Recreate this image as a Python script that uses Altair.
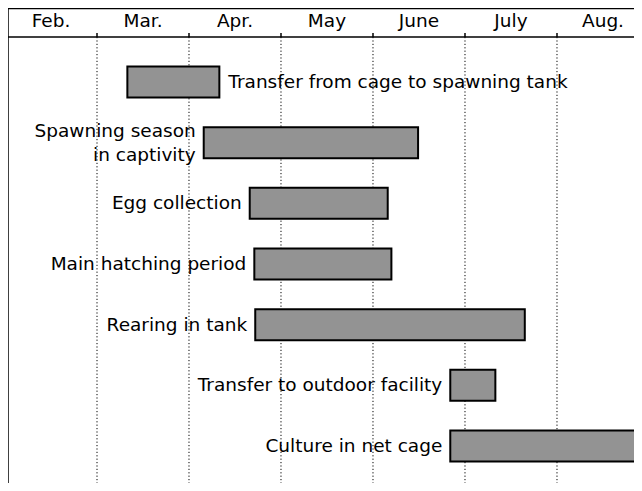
import altair as alt
import pandas as pd

# ---- data ----
months = ["Feb.", "Mar.", "Apr.", "May", "June", "July", "Aug."]
month_pos = [0.5, 1.5, 2.5, 3.5, 4.5, 5.5, 6.5]          # month centres (months since Feb. 1)
boundaries = [1, 2, 3, 4, 5, 6]                           # month boundaries

tasks = [
    "Transfer from cage to spawning tank",
    "Spawning season in captivity",
    "Egg collection",
    "Main hatching period",
    "Rearing in tank",
    "Transfer to outdoor facility",
    "Culture in net cage",
]
label_lines = [
    ["Transfer from cage to spawning tank"],
    ["Spawning season", "in captivity"],
    ["Egg collection"],
    ["Main hatching period"],
    ["Rearing in tank"],
    ["Transfer to outdoor facility"],
    ["Culture in net cage"],
]
starts = [1.33, 2.16, 2.66, 2.71, 2.72, 4.84, 4.84]
ends = [2.33, 4.49, 4.16, 4.20, 5.65, 5.33, 7.30]
rows = [0, 1, 2, 3, 4, 5, 6]
label_right = [True, False, False, False, False, False, False]

# ---- scales ----
X0, X1 = 0.0326, 6.837
Y0, Y1 = -1.22, 6.61
HEADER = -0.742
MONTH_Y = -1.01
TICK_TOP = -0.808
HALF = 0.255
LINE_STEP = 0.198
FONT = "DejaVu Sans"
FS = 18.5

xs = alt.Scale(domain=[X0, X1], nice=False, zero=False)
ys = alt.Scale(domain=[Y0, Y1], nice=False, zero=False, reverse=True)

bars_df = pd.DataFrame({"task": tasks, "start": starts, "end": ends, "row": rows,
                        "lines": label_lines, "right": label_right})

months_df = pd.DataFrame({"month": months, "pos": month_pos, "y": MONTH_Y})
bound_df = pd.DataFrame({"b": boundaries, "top": HEADER, "bot": Y1, "ttop": TICK_TOP})

# frame lines
frame_df = pd.DataFrame({
    "x": [X0, X0, X0], "x2": [X1, X1, X0],
    "y": [Y0 + 0.01, HEADER, Y0], "y2": [Y0 + 0.01, HEADER, Y1],
})
frame = alt.Chart(frame_df).mark_rule(color="black", strokeWidth=1.5).encode(
    x=alt.X("x:Q", scale=xs, axis=None), x2="x2:Q",
    y=alt.Y("y:Q", scale=ys, axis=None), y2="y2:Q",
)

dotted = alt.Chart(bound_df).mark_rule(color="black", strokeWidth=1, strokeDash=[1.2, 2.2]).encode(
    x=alt.X("b:Q", scale=xs, axis=None),
    y=alt.Y("top:Q", scale=ys, axis=None), y2="bot:Q",
)
ticks = alt.Chart(bound_df).mark_rule(color="black", strokeWidth=1.5).encode(
    x=alt.X("b:Q", scale=xs, axis=None),
    y=alt.Y("ttop:Q", scale=ys, axis=None), y2="top:Q",
)

month_text = alt.Chart(months_df).mark_text(font=FONT, fontSize=FS, color="black",
                                             baseline="middle", align="center").encode(
    x=alt.X("pos:Q", scale=xs, axis=None),
    y=alt.Y("y:Q", scale=ys, axis=None),
    text="month:N",
)

bars = alt.Chart(bars_df).transform_calculate(
    y1=f"datum.row - {HALF}", y2=f"datum.row + {HALF}"
).mark_rect(fill="#939393", stroke="black", strokeWidth=2, clip=True).encode(
    x=alt.X("start:Q", scale=xs, axis=None), x2="end:Q",
    y=alt.Y("y1:Q", scale=ys, axis=None), y2="y2:Q",
)

left_labels = alt.Chart(bars_df).transform_filter("!datum.right").transform_calculate(
    ly=f"datum.row - (length(datum.lines) - 1) * {LINE_STEP}"
).mark_text(
    font=FONT, fontSize=FS, color="black", align="right", baseline="middle",
    dx=-8, lineHeight=24).encode(
    x=alt.X("start:Q", scale=xs, axis=None),
    y=alt.Y("ly:Q", scale=ys, axis=None),
    text="lines",
)
right_labels = alt.Chart(bars_df).transform_filter("datum.right").mark_text(
    font=FONT, fontSize=FS, color="black", align="left", baseline="middle",
    dx=9, lineHeight=24).encode(
    x=alt.X("end:Q", scale=xs, axis=None),
    y=alt.Y("row:Q", scale=ys, axis=None),
    text="lines",
)

chart = alt.layer(dotted, ticks, frame, month_text, bars, left_labels, right_labels).properties(
    width=626, height=475, padding=0, autosize="none",
).configure_view(stroke=None)

chart.save("out.html", embed_options={"renderer": "svg", "actions": False})
